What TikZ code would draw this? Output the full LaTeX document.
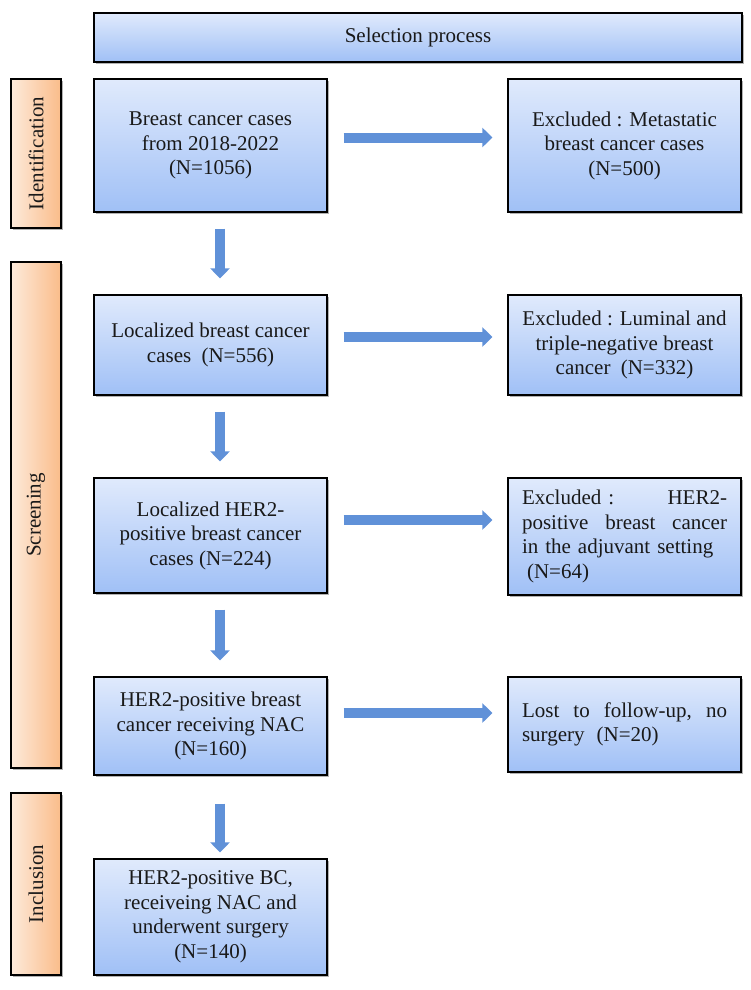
\documentclass[tikz,border=0pt]{standalone}
\usepackage{fontspec}
\setmainfont{Liberation Serif}
\usetikzlibrary{arrows.meta,shadows}
\definecolor{boxtop}{RGB}{224,234,252}
\definecolor{boxbot}{RGB}{160,192,246}
\definecolor{sidel}{RGB}{253,234,218}
\definecolor{sider}{RGB}{250,188,138}
\definecolor{arrowblue}{RGB}{96,145,216}
\definecolor{txt}{RGB}{25,25,25}
\begin{document}
\begin{tikzpicture}[x=1pt,y=-1pt,
  every node/.style={font=\fontsize{21}{24.5}\selectfont, text=txt},
  flowbox/.style={draw=black, line width=1.2pt, top color=boxtop, bottom color=boxbot,
    minimum width=233pt, inner sep=0pt, align=center,
    drop shadow={shadow xshift=2pt,shadow yshift=-2pt,opacity=0.3,fill=black}},
  sidebox/.style={draw=black, line width=1.2pt, left color=sidel, right color=sider,
    minimum width=50pt, inner sep=0pt,
    drop shadow={shadow xshift=2pt,shadow yshift=-2pt,opacity=0.3,fill=black}},
  sidetext/.style={rotate=90, inner sep=0pt},
  blockarrow/.style={draw=arrowblue, line width=10pt,
    -{Triangle[width=19pt,length=10pt]}, shorten <=16pt, shorten >=16pt}
]
\useasboundingbox (0,0) rectangle (750,990);

% title
\node[flowbox, minimum width=648pt, minimum height=49pt] (title) at (418,37.5) {Selection process};

% side labels
\node[sidebox, minimum height=149pt] (sid) at (36,153.5) {};
\node[sidetext] (sidt) at (sid.center) {Identification};
\node[sidebox, minimum height=506pt] (ssc) at (36,515) {};
\node[sidetext] (ssct) at (ssc.center) {Screening};
\node[sidebox, minimum height=182pt] (sin) at (36,884) {};
\node[sidetext] (sint) at (sin.center) {Inclusion};

% left column
\node[flowbox, minimum height=133pt] (L1) at (210.5,145.5) {Breast cancer cases\\from 2018-2022\\(N=1056)};
\node[flowbox, minimum height=100pt] (L2) at (210.5,345) {Localized breast cancer\\cases\hspace{5pt} (N=556)};
\node[flowbox, minimum height=115pt] (L3) at (210.5,535.5) {Localized HER2-\\positive breast cancer\\cases (N=224)};
\node[flowbox, minimum height=98pt] (L4) at (210.5,726) {HER2-positive breast\\cancer receiving NAC\\(N=160)};
\node[flowbox, minimum height=116pt] (L5) at (210.5,917) {HER2-positive BC,\\receiveing NAC and\\underwent surgery\\(N=140)};

% right column
\node[flowbox, minimum height=133pt] (R1) at (624.5,145.5) {Excluded : Metastatic\\breast cancer cases\\(N=500)};
\node[flowbox, minimum height=100pt] (R2) at (624.5,345) {Excluded : Luminal and\\triple-negative breast\\cancer\hspace{5pt} (N=332)};
\node[flowbox, minimum height=117pt, text width=205pt, align=left] (R3) at (624.5,536.5)
  {Excluded :\hfill HER2-\\positive\hfill breast\hfill cancer\\in the adjuvant setting\\\hspace*{5pt}(N=64)};
\node[flowbox, minimum height=95pt, text width=205pt, align=left] (R4) at (624.5,724.5)
  {Lost\hfill to\hfill follow-up,\hfill no\\surgery\hspace{5pt} (N=20)};

% horizontal arrows
\draw[blockarrow, shorten >=15pt] ([yshift=8pt]L1.east) -- ([yshift=8pt]L1.east -| R1.west);
\draw[blockarrow, shorten >=15pt] ([yshift=8pt]L2.east) -- ([yshift=8pt]L2.east -| R2.west);
\draw[blockarrow, shorten >=15pt] ([yshift=15.5pt]L3.east) -- ([yshift=15.5pt]L3.east -| R3.west);
\draw[blockarrow, shorten >=15pt] ([yshift=13pt]L4.east) -- ([yshift=13pt]L4.east -| R4.west);

% vertical arrows
\draw[blockarrow] ([xshift=9.5pt]L1.south) -- ([xshift=9.5pt]L1.south |- L2.north);
\draw[blockarrow] ([xshift=9.5pt]L2.south) -- ([xshift=9.5pt]L2.south |- L3.north);
\draw[blockarrow] ([xshift=9.5pt]L3.south) -- ([xshift=9.5pt]L3.south |- L4.north);
\draw[blockarrow, shorten <=28pt, shorten >=6pt] ([xshift=9.5pt]L4.south) -- ([xshift=9.5pt]L4.south |- L5.north);
\end{tikzpicture}
\end{document}
